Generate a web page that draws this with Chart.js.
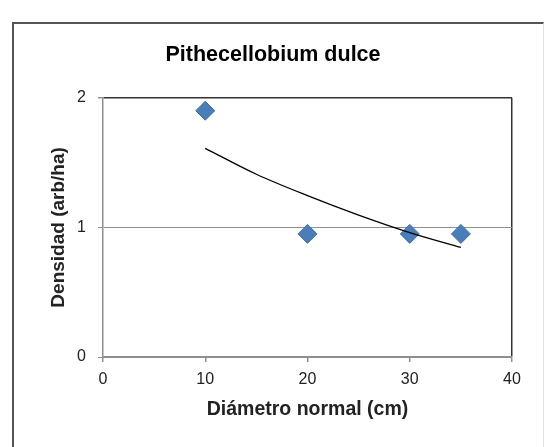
<!DOCTYPE html>
<html lang="es">
<head>
<meta charset="utf-8">
<title>Pithecellobium dulce</title>
<script src="https://cdn.jsdelivr.net/npm/chart.js@4"></script>
<style>
  html, body { margin: 0; padding: 0; background: #fff; }
  #contenedor { position: relative; width: 546px; height: 447px; overflow: hidden; }
  /* Marco exterior del gráfico (el borde inferior queda fuera de la imagen) */
  #marco {
    position: absolute; left: 12px; top: 22px; width: 529px; height: 440px;
    border-left: 2px solid #555; border-top: 2px solid #555; border-right: 1px solid #e2e2e2;
  }
  canvas { position: absolute; left: 0; top: 0; }
</style>
</head>
<body>
<div id="contenedor">
  <div id="marco"></div>
  <canvas id="densidad-chart" width="546" height="447"></canvas>
</div>
<script>
// Datos: densidad por clase diamétrica.
const diametros = [10, 20, 30, 35];
const densidades = [1.9, 0.95, 0.95, 0.95];

// Línea de tendencia (exponencial).
const tendenciaX = [10, 15, 20, 25, 30, 35];
const tendenciaY = [1.61, 1.41, 1.245, 1.095, 0.96, 0.845];

// Marcas de los ejes.
const ticksX = [0, 10, 20, 30, 40];
const ticksY = [0, 1, 2];

Chart.defaults.font.family = "'Liberation Sans', Arial, sans-serif";
Chart.defaults.color = "#222";

const GRIS = "#8f8f8f";
const OSCURO = "#333";

const ctx = document.getElementById("densidad-chart").getContext("2d");

new Chart(ctx, {
  type: "scatter",
  data: {
    datasets: [
      {
        label: "Tendencia",
        data: tendenciaX.map((x, i) => ({ x: x, y: tendenciaY[i] })),
        showLine: true,
        borderColor: "#000",
        borderWidth: 1.3,
        pointRadius: 0,
        cubicInterpolationMode: "monotone",
        order: 0,
      },
      {
        label: "Densidad",
        data: diametros.map((x, i) => ({ x: x, y: densidades[i] })),
        pointStyle: "rectRot",
        pointRadius: 9.5,
        backgroundColor: "#4a7ebb",
        borderColor: "#41709f",
        borderWidth: 1,
        order: 1,
      },
    ],
  },
  options: {
    responsive: false,
    animation: false,
    layout: { padding: 0 },
    plugins: {
      legend: { display: false },
      tooltip: { enabled: false },
      title: {
        display: true,
        text: "Pithecellobium dulce",
        color: "#000",
        font: { size: 21.5, weight: "bold" },
        padding: { top: 42, bottom: 30 },
      },
    },
    scales: {
      x: {
        type: "linear",
        position: "bottom",
        min: 0,
        max: 40,
        afterBuildTicks: scale => {
          scale.ticks = ticksX.map(v => ({ value: v }));
        },
        afterFit: scale => {
          scale.height = 90;
        },
        ticks: { font: { size: 16 }, color: "#222", padding: 8 },
        grid: {
          // Solo se ve el borde derecho del área de trazado.
          color: c => (c.tick && c.tick.value === 40 ? OSCURO : "transparent"),
          lineWidth: 1.5,
          tickColor: GRIS,
          tickLength: 5,
        },
        border: { color: GRIS, width: 1.5 },
        title: {
          display: true,
          text: "Diámetro normal (cm)",
          color: "#222",
          font: { size: 19.5, weight: "bold" },
          padding: { top: 0, bottom: 26 },
        },
      },
      y: {
        min: 0,
        max: 2,
        afterBuildTicks: scale => {
          scale.ticks = ticksY.map(v => ({ value: v }));
        },
        afterFit: scale => {
          scale.width = 103;
        },
        ticks: { font: { size: 16 }, color: "#222", padding: 12 },
        grid: {
          // La línea de 2 hace de borde superior.
          color: c => (c.tick && c.tick.value === 2 ? OSCURO : GRIS),
          lineWidth: c => (c.tick && c.tick.value === 2 ? 1.5 : 1),
          tickColor: GRIS,
          tickLength: 5,
        },
        border: { color: GRIS, width: 1.5 },
        title: {
          display: true,
          text: "Densidad (arb/ha)",
          color: "#222",
          font: { size: 19, weight: "bold" },
          padding: { top: 47, bottom: 0 },
        },
      },
      // Eje vacío a la derecha para dejar el margen y centrar el título.
      margen: {
        type: "linear",
        position: "right",
        display: true,
        grid: { display: false },
        ticks: { display: false },
        border: { display: false },
        afterFit: scale => {
          scale.width = 34;
        },
      },
    },
  },
});
</script>
</body>
</html>
